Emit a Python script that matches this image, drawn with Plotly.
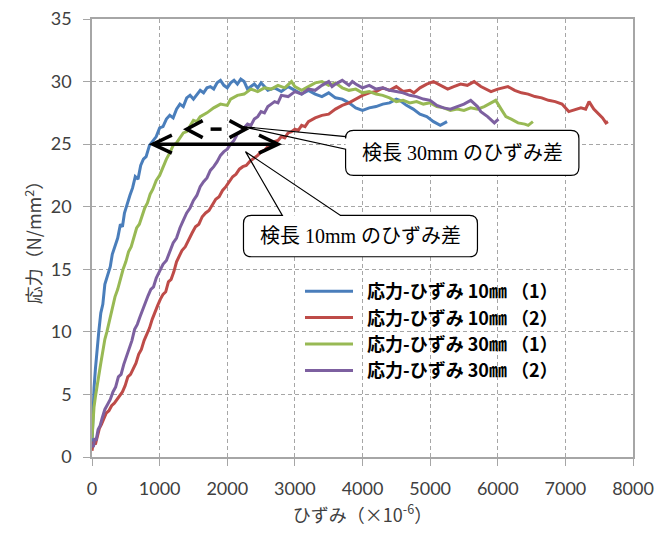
import plotly.graph_objects as go

# Stress-strain curves (strain in 1e-6, stress in N/mm2)
strain_10mm_1 = [0, 15, 30, 50, 70, 100, 130, 160, 190, 230, 270, 300, 340, 380, 420, 450, 480, 520, 560, 600,
                 640, 680, 720, 760, 800, 850, 900, 950, 1000, 1050, 1100, 1150, 1200, 1250, 1300, 1350, 1400,
                 1450, 1500, 1550, 1600, 1650, 1700, 1750, 1800, 1850, 1900, 1950, 2000, 2050, 2100, 2150, 2200,
                 2250, 2300, 2350, 2400, 2450, 2500, 2550, 2600, 2700, 2800, 2900, 3000, 3100, 3200, 3300, 3400,
                 3500, 3600, 3700, 3800, 3900, 4000, 4100, 4200, 4300, 4400, 4500, 4550, 4650, 4750, 4850, 4950,
                 5050, 5150, 5250]
stress_10mm_1 = [1.0, 3.5, 5.5, 7.0, 8.5, 10.0, 11.5, 12.2, 13.8, 14.5, 15.2, 16.2, 16.8, 17.5, 18.6, 18.4, 19.5,
                 20.3, 20.9, 21.5, 22.4, 22.2, 23.3, 23.8, 24.0, 24.9, 25.3, 25.6, 26.3, 26.4, 27.0, 27.3, 27.1,
                 27.8, 28.2, 28.0, 28.7, 28.9, 28.6, 29.0, 29.3, 29.1, 29.5, 29.6, 29.4, 29.9, 30.1, 29.7, 29.5,
                 29.9, 30.1, 29.8, 30.2, 30.0, 29.4, 29.6, 29.8, 29.5, 29.9, 29.6, 29.3, 29.5, 29.2, 29.6, 29.3,
                 29.0, 29.3, 29.0, 28.8, 29.1, 28.7, 28.6, 28.3, 27.9, 27.7, 27.9, 28.0, 28.2, 28.3, 28.6, 28.5,
                 28.1, 27.8, 27.4, 27.2, 26.8, 26.5, 26.8]

strain_10mm_2 = [0, 20, 50, 80, 110, 140, 170, 210, 250, 290, 330, 370, 410, 450, 490, 530, 570, 610, 650, 690,
                 730, 770, 810, 850, 890, 930, 970, 1010, 1050, 1090, 1130, 1170, 1210, 1250, 1290, 1330, 1380,
                 1430, 1480, 1530, 1580, 1630, 1680, 1730, 1780, 1830, 1880, 1930, 1980, 2030, 2080, 2130, 2180,
                 2230, 2280, 2330, 2400, 2450, 2500, 2550, 2600, 2650, 2700, 2750, 2800, 2850, 2900, 2950, 3000,
                 3050, 3100, 3150, 3200, 3300, 3400, 3500, 3600, 3700, 3800, 3900, 4000, 4100, 4200, 4300, 4400,
                 4500, 4600, 4700, 4760, 4850, 4950, 5050, 5150, 5260, 5350, 5450, 5550, 5650, 5750, 5850, 5900,
                 6000, 6100, 6150, 6250, 6350, 6450, 6550, 6650, 6750, 6850, 6950, 7050, 7150, 7230, 7300, 7350,
                 7420, 7500, 7550, 7600, 7630]
stress_10mm_2 = [0.5, 1.2, 1.0, 1.8, 2.3, 2.6, 3.0, 3.5, 3.7, 4.1, 4.3, 4.6, 4.9, 5.2, 5.7, 6.4, 6.6, 7.0, 7.5,
                 8.2, 8.6, 9.3, 9.8, 10.3, 11.0, 11.6, 12.1, 12.6, 13.0, 13.2, 14.0, 14.2, 14.8, 15.6, 16.0, 16.5,
                 16.8, 17.4, 17.9, 18.4, 18.6, 19.2, 19.5, 19.7, 20.1, 20.6, 20.8, 21.3, 21.6, 22.0, 22.4, 22.6,
                 23.0, 23.2, 23.3, 23.6, 23.9, 24.1, 24.4, 24.5, 24.8, 24.9, 25.2, 25.3, 25.6, 25.5, 25.9, 26.0,
                 26.2, 26.1, 26.5, 26.4, 26.8, 27.1, 27.3, 27.4, 27.8, 28.1, 28.3, 28.6, 28.9, 29.1, 29.2, 29.5,
                 29.3, 29.6, 29.2, 29.3, 29.1, 29.5, 29.8, 30.0, 29.7, 29.4, 29.6, 29.8, 29.7, 30.0, 29.6, 29.3,
                 29.2, 29.4, 29.5, 29.6, 29.3, 29.1, 29.0, 28.8, 28.7, 28.5, 28.4, 28.2, 27.6, 27.8, 27.9, 27.8,
                 28.4, 27.8, 27.4, 27.1, 26.7, 26.8]

strain_30mm_1 = [0, 15, 30, 50, 75, 100, 130, 160, 190, 220, 260, 300, 340, 380, 420, 460, 500, 540, 580, 620,
                 660, 700, 740, 780, 820, 860, 900, 950, 1000, 1050, 1100, 1150, 1200, 1250, 1300, 1350, 1400,
                 1450, 1500, 1550, 1600, 1700, 1800, 1900, 2000, 2050, 2150, 2250, 2350, 2450, 2550, 2650, 2750,
                 2850, 2950, 3000, 3100, 3200, 3300, 3400, 3500, 3600, 3700, 3800, 3900, 4000, 4100, 4200, 4300,
                 4400, 4500, 4600, 4700, 4800, 4900, 5000, 5100, 5200, 5300, 5400, 5500, 5600, 5700, 5800, 5900,
                 5970, 6050, 6120, 6200, 6300, 6400, 6450, 6520]
stress_30mm_1 = [1.5, 3.0, 4.0, 4.8, 5.5, 6.5, 7.5, 8.5, 9.4, 10.0, 11.0, 11.8, 12.8, 13.4, 14.3, 15.0, 15.6,
                 16.4, 16.8, 17.6, 18.3, 18.6, 19.2, 19.9, 20.3, 21.0, 21.4, 22.1, 22.5, 23.2, 23.8, 24.3, 24.9,
                 25.1, 25.5, 25.9, 26.0, 26.4, 26.9, 26.8, 27.2, 27.5, 27.9, 28.2, 28.1, 28.6, 28.9, 29.0, 29.4,
                 29.2, 29.5, 29.4, 29.7, 29.5, 30.0, 29.6, 29.3, 29.6, 29.9, 30.0, 29.7, 29.9, 29.5, 29.3, 29.4,
                 29.1, 29.2, 29.0, 28.9, 28.7, 28.4, 28.5, 28.3, 28.4, 28.2, 28.3, 28.0, 27.9, 27.7, 27.8, 27.7,
                 27.9, 27.8, 28.0, 28.3, 28.5, 27.8, 27.2, 27.0, 26.7, 26.6, 26.5, 26.8]

strain_30mm_2 = [0, 20, 40, 60, 90, 120, 150, 190, 230, 270, 310, 350, 390, 430, 470, 510, 550, 590, 630, 670,
                 710, 750, 790, 830, 870, 910, 950, 1000, 1050, 1100, 1150, 1200, 1250, 1300, 1350, 1400, 1450,
                 1500, 1550, 1600, 1650, 1700, 1750, 1800, 1850, 1900, 1950, 2000, 2050, 2100, 2150, 2200, 2250,
                 2300, 2350, 2400, 2450, 2500, 2550, 2600, 2650, 2700, 2750, 2800, 2900, 3000, 3100, 3200, 3300,
                 3400, 3500, 3550, 3600, 3700, 3800, 3850, 3900, 4000, 4100, 4200, 4300, 4400, 4500, 4600, 4700,
                 4800, 4900, 5000, 5100, 5200, 5300, 5400, 5500, 5600, 5700, 5750, 5850, 5950, 6010]
stress_30mm_2 = [1.0, 0.8, 1.5, 1.3, 2.2, 2.5, 3.1, 3.8, 4.2, 4.6, 5.2, 5.6, 6.4, 6.6, 7.4, 8.1, 8.6, 9.3, 10.2,
                 10.6, 11.2, 11.8, 12.3, 12.9, 13.4, 13.6, 14.3, 14.8, 15.4, 15.7, 16.4, 17.1, 17.5, 18.3, 18.9,
                 19.5, 19.9, 20.5, 20.9, 21.6, 22.0, 22.3, 22.9, 23.2, 23.6, 24.1, 24.4, 24.6, 25.0, 25.3, 25.8,
                 26.0, 26.3, 26.6, 26.5, 27.0, 27.2, 27.6, 27.5, 28.0, 28.2, 28.4, 28.3, 28.9, 28.8, 29.2, 29.0,
                 29.4, 29.3, 29.7, 30.0, 29.6, 29.8, 30.1, 29.7, 30.0, 29.8, 29.5, 29.7, 29.4, 29.5, 29.3, 29.2,
                 29.1, 28.9, 28.8, 28.6, 28.5, 28.1, 27.9, 27.8, 28.0, 28.2, 28.5, 28.0, 27.6, 27.2, 26.7, 27.0]

series_names = ["応力-ひずみ 10㎜ （1）", "応力-ひずみ 10㎜ （2）",
                "応力-ひずみ 30㎜ （1）", "応力-ひずみ 30㎜ （2）"]
series_colors = ["#4A7EBB", "#BE4B48", "#98B954", "#7D60A0"]
series_data = [(strain_10mm_1, stress_10mm_1), (strain_10mm_2, stress_10mm_2),
               (strain_30mm_1, stress_30mm_1), (strain_30mm_2, stress_30mm_2)]

x_ticks = [0, 1000, 2000, 3000, 4000, 5000, 6000, 7000, 8000]
y_ticks = [0, 5, 10, 15, 20, 25, 30, 35]

# Strain-difference arrows at a given stress level
diff_10mm = dict(x0=900, x1=2750, y=25.0)
diff_30mm = dict(x0=1400, x1=2270, y=26.2)

# Callout labels
callout_30mm_text = "検長 30mm のひずみ差"
callout_10mm_text = "検長 10mm のひずみ差"

# Layout geometry (pixels)
W, H = 661, 535
M_L, M_R, M_T, M_B = 92, 28, 19, 78
X_RANGE = (0, 8000)
Y_RANGE = (0, 35)
px_per_x = (W - M_L - M_R) / (X_RANGE[1] - X_RANGE[0])
px_per_y = (H - M_T - M_B) / (Y_RANGE[1] - Y_RANGE[0])


def dx(px):
    return px / px_per_x


def dy(px):
    return px / px_per_y


fig = go.Figure()
for (xs, ys), name, color in zip(series_data, series_names, series_colors):
    # en-space keeps a gap between the legend line and its label
    fig.add_trace(go.Scatter(x=xs, y=ys, mode="lines", name="\u2002" + name,
                             line=dict(color=color, width=3)))

shapes = []


def double_arrow(a, dashed=False, head_len=17, head_half=9, width=3.5):
    x0, x1, y = a["x0"], a["x1"], a["y"]
    ln = dict(color="black", width=width)
    if dashed:
        # a single short dash centred between the two heads
        xm, half = (x0 + x1) / 2, dx(5.5)
        shapes.append(dict(type="line", xref="x", yref="y", x0=xm - half, x1=xm + half, y0=y, y1=y,
                           line=ln, layer="above"))
    else:
        shapes.append(dict(type="line", xref="x", yref="y", x0=x0, x1=x1, y0=y, y1=y, line=ln, layer="above"))
    hx, hy = dx(head_len), dy(head_half)
    for tip, sgn in ((x0, 1), (x1, -1)):
        path = f"M{tip + sgn * hx},{y + hy} L{tip},{y} L{tip + sgn * hx},{y - hy}"
        shapes.append(dict(type="path", xref="x", yref="y", path=path, line=ln, layer="above"))


double_arrow(diff_10mm, head_len=19, head_half=9)
double_arrow(diff_30mm, dashed=True, head_len=16, head_half=8.5)


def rounded_outline(x0, x1, y0, y1, r=8, left_wedge=None, top_wedge=None):
    rx, ry = dx(r), dy(r)
    p = f"M{x0 + rx},{y1} "
    if top_wedge:
        (wa, wb), (tx, ty) = top_wedge
        p += f"L{wa},{y1} L{tx},{ty} L{wb},{y1} "
    p += f"L{x1 - rx},{y1} Q{x1},{y1} {x1},{y1 - ry} L{x1},{y0 + ry} Q{x1},{y0} {x1 - rx},{y0} "
    p += f"L{x0 + rx},{y0} Q{x0},{y0} {x0},{y0 + ry} "
    if left_wedge:
        (wlo, whi), (tx, ty) = left_wedge
        p += f"L{x0},{wlo} L{tx},{ty} L{x0},{whi} "
    p += f"L{x0},{y1 - ry} Q{x0},{y1} {x0 + rx},{y1} Z"
    return p


def callout(text, box, left_wedge=None, top_wedge=None):
    x0, x1, y0, y1 = box
    shapes.append(dict(type="path", xref="x", yref="y", path=rounded_outline(x0, x1, y0, y1),
                       fillcolor="white", line=dict(width=0), layer="above"))
    shapes.append(dict(type="path", xref="x", yref="y",
                       path=rounded_outline(x0, x1, y0, y1, left_wedge=left_wedge, top_wedge=top_wedge),
                       line=dict(color="black", width=1.2), layer="above"))
    fig.add_annotation(x=(x0 + x1) / 2, y=(y0 + y1) / 2, xref="x", yref="y", text=text, showarrow=False,
                       font=dict(family="Liberation Serif, Noto Sans CJK JP", size=20, color="black"))


callout(callout_30mm_text, (3750, 7200, 22.5, 26.1), left_wedge=((24.6, 25.6), (2220, 26.4)))
callout(callout_10mm_text, (2240, 5700, 16.0, 19.3), top_wedge=((2815, 3675), (2270, 24.4)))

axis_common = dict(
    showline=True, linecolor="#a6a6a6", linewidth=1.5, mirror=True,
    showgrid=True, gridcolor="#a6a6a6", gridwidth=1.2, griddash="4px,3px",
    ticks="outside", ticklen=7, tickcolor="#a6a6a6", tickwidth=1.2,
    zeroline=False,
    tickfont=dict(family="Lato, Noto Sans CJK JP", size=18, color="#404040"),
)

fig.update_layout(
    width=W, height=H,
    margin=dict(l=M_L, r=M_R, t=M_T, b=M_B, autoexpand=False),
    paper_bgcolor="white", plot_bgcolor="white",
    shapes=shapes,
    xaxis=dict(range=list(X_RANGE), tickvals=x_ticks, ticktext=[str(v) for v in x_ticks],
               ticklabelstandoff=8,
               title=dict(text="ひずみ（×10<sup>-6</sup>）", standoff=6,
                          font=dict(family="Noto Sans CJK JP", size=18, color="#404040")),
               **axis_common),
    yaxis=dict(range=list(Y_RANGE), tickvals=y_ticks, ticktext=[str(v) for v in y_ticks],
               ticklabelstandoff=8,
               title=dict(text="応力（N/mm<sup>2</sup>）", standoff=4,
                          font=dict(family="Noto Sans CJK JP", size=18, color="#404040")),
               **axis_common),
    legend=dict(x=(300 - M_L) / (W - M_L - M_R), y=(H - M_B - 273) / (H - M_T - M_B),
                xanchor="left", yanchor="top", bgcolor="rgba(255,255,255,0)",
                itemwidth=48, tracegroupgap=0,
                font=dict(family="Noto Sans CJK JP", size=18, color="black", weight="bold")),
    showlegend=True,
)

fig.write_html("out.html")
